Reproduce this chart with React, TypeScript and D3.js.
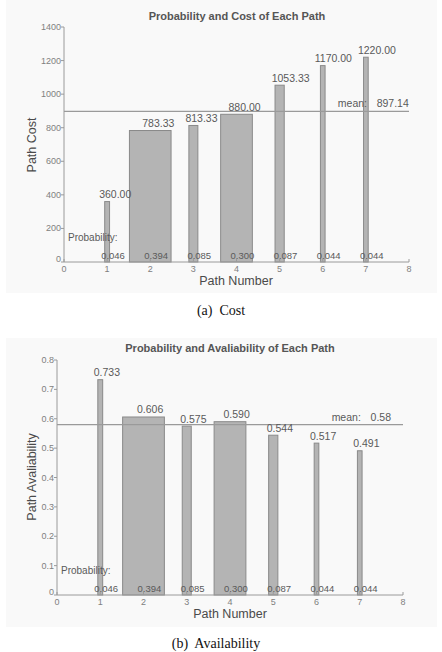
import React from "react";
import * as d3 from "d3";

const paths = [1, 2, 3, 4, 5, 6, 7];
const probs = [0.046, 0.394, 0.085, 0.3, 0.087, 0.044, 0.044];
const probLabels = ["0.046", "0.394", "0.085", "0.300", "0.087", "0.044", "0.044"];
const costs = [360, 783.33, 813.33, 880, 1053.33, 1170, 1220];
const costLabels = ["360.00", "783.33", "813.33", "880.00", "1053.33", "1170.00", "1220.00"];
const avails = [0.733, 0.606, 0.575, 0.59, 0.544, 0.517, 0.491];
const availLabels = ["0.733", "0.606", "0.575", "0.590", "0.544", "0.517", "0.491"];
const costMean = 897.14;
const costMeanLabel = "897.14";
const availMean = 0.58;
const availMeanLabel = "0.58";
const xTicks = [0, 1, 2, 3, 4, 5, 6, 7, 8];
const costTicks = [0, 200, 400, 600, 800, 1000, 1200, 1400];
const availTicks = [0, 0.1, 0.2, 0.3, 0.4, 0.5, 0.6, 0.7, 0.8];

const SANS = "Arial, 'Liberation Sans', Helvetica, sans-serif";
const SERIF = "'Times New Roman', 'Liberation Serif', serif";

type PanelProps = {
  x0: number; x1: number; y0: number; y1: number;
  yMax: number; values: number[]; valueLabels: string[];
  yTicks: number[]; yFmt: (v: number) => string;
  mean: number; meanLabel: string;
  title: string; titleX: number; titleY: number;
  yLabel: string; yLabelY: number;
  xLabelX: number; xLabelY: number;
  caption: string; captionX: number; captionY: number;
  valOffset: number; probOffset: number;
  probTextX: number; probTextY: number; probValY: number;
  meanDy: number; bgY0: number; bgY1: number;
};

function Panel(p: PanelProps) {
  const x = d3.scaleLinear().domain([0, 8]).range([p.x0, p.x1]);
  const y = d3.scaleLinear().domain([0, p.yMax]).range([p.y0, p.y1]);
  const unit = x(1) - x(0);
  const widthFactor = 2.45;
  const grey = "#5a5a5a";
  const tickCol = "#808080";
  return (
    <g>
      <rect x={6} y={p.bgY0} width={431} height={p.bgY1 - p.bgY0} fill="#f9f9f9" />
      <text x={p.titleX} y={p.titleY} textAnchor="middle" fontFamily={SANS} fontSize={11} fontWeight="bold" fill="#555">
        {p.title}
      </text>
      {paths.map((d, i) => {
        const w = probs[i] * widthFactor * unit;
        return (
          <rect key={"b" + i} x={x(d) - w / 2} y={y(p.values[i])} width={w} height={y(0) - y(p.values[i])}
            fill="#b4b4b4" stroke="#8a8a8a" strokeWidth={1} />
        );
      })}
      <line x1={x(0)} x2={x(8)} y1={y(p.mean)} y2={y(p.mean)} stroke="#9a9a9a" strokeWidth={1.2} />
      <line x1={x(0)} x2={x(0)} y1={y(0)} y2={y(p.yMax)} stroke="#9a9a9a" strokeWidth={1} />
      <line x1={x(0)} x2={x(8)} y1={y(0)} y2={y(0)} stroke="#9a9a9a" strokeWidth={1} />
      {p.yTicks.map((t) => (
        <g key={"yt" + t}>
          <line x1={x(0) - 3} x2={x(0)} y1={y(t)} y2={y(t)} stroke="#9a9a9a" />
          <text x={x(0) - 3} y={y(t) + (t === 0 ? 0 : 3)} textAnchor="end" fontFamily={SANS} fontSize={9} fill={tickCol}>
            {p.yFmt(t)}
          </text>
        </g>
      ))}
      {xTicks.map((t) => (
        <g key={"xt" + t}>
          <line x1={x(t)} x2={x(t)} y1={y(0)} y2={y(0) - 3} stroke="#9a9a9a" />
          <text x={x(t)} y={y(0) + 9.5} textAnchor="middle" fontFamily={SANS} fontSize={9} fill={tickCol}>
            {String(t)}
          </text>
        </g>
      ))}
      {paths.map((d, i) => (
        <text key={"v" + i} x={x(d) + p.valOffset} y={y(p.values[i]) - 3.5} fontFamily={SANS} fontSize={10.5} fill={grey}>
          {p.valueLabels[i]}
        </text>
      ))}
      {paths.map((d, i) => (
        <text key={"p" + i} x={x(d) + p.probOffset} y={p.probValY} fontFamily={SANS} fontSize={9.5} fill={grey}>
          {probLabels[i]}
        </text>
      ))}
      <text x={p.probTextX} y={p.probTextY} fontFamily={SANS} fontSize={10} fill={grey}>Probability:</text>
      <text x={x(6.35)} y={y(p.mean) + p.meanDy} fontFamily={SANS} fontSize={10.5} fill={grey}>mean:</text>
      <text x={x(7.25)} y={y(p.mean) + p.meanDy} fontFamily={SANS} fontSize={10.5} fill={grey}>{p.meanLabel}</text>
      <text x={p.xLabelX} y={p.xLabelY} textAnchor="middle" fontFamily={SANS} fontSize={12.5} fill="#4a4a4a">Path Number</text>
      <text transform={`translate(36,${p.yLabelY}) rotate(-90)`} textAnchor="middle" fontFamily={SANS} fontSize={12.5} fill="#4a4a4a">
        {p.yLabel}
      </text>
      <text x={p.captionX} y={p.captionY} textAnchor="middle" fontFamily={SERIF} fontSize={14} fill="#111" xmlSpace="preserve">
        {p.caption}
      </text>
    </g>
  );
}

export default function App() {
  return (
    <svg width={442} height={652} style={{ position: "absolute", left: 0, top: 0, background: "#fff" }}>
      <Panel x0={64} x1={409} y0={262} y1={27} yMax={1400} values={costs} valueLabels={costLabels}
        yTicks={costTicks} yFmt={(v) => String(v)} mean={costMean} meanLabel={costMeanLabel}
        title="Probability and Cost of Each Path" titleX={237} titleY={20}
        yLabel="Path Cost" yLabelY={145} xLabelX={236} xLabelY={285}
        caption="(a)  Cost" captionX={221} captionY={315}
        valOffset={-8} probOffset={-6} probTextX={68} probTextY={241} probValY={259}
        meanDy={-4.5} bgY0={0} bgY1={293} />
      <Panel x0={57} x1={403} y0={595} y1={360} yMax={0.8} values={avails} valueLabels={availLabels}
        yTicks={availTicks} yFmt={(v) => (v === 0 ? "0" : d3.format(".1f")(v))} mean={availMean} meanLabel={availMeanLabel}
        title="Probability and Avaliability of Each Path" titleX={230} titleY={352}
        yLabel="Path Avaliability" yLabelY={477} xLabelX={230} xLabelY={618}
        caption="(b)  Availability" captionX={216} captionY={648}
        valOffset={-6.5} probOffset={-6} probTextX={61} probTextY={574} probValY={592}
        meanDy={-3.5} bgY0={338} bgY1={627} />
    </svg>
  );
}
